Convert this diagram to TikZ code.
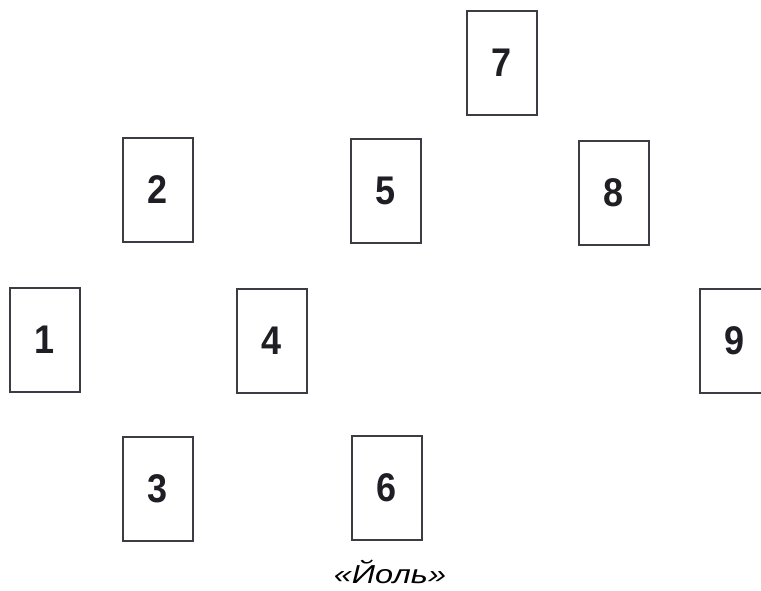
\documentclass[tikz,border=0pt]{standalone}
\usepackage{fontspec}
\setmainfont{Liberation Sans}
\newfontfamily\cardfont[FakeStretch=0.9]{Liberation Sans}
\newfontfamily\yulefont[FakeStretch=1.25]{Liberation Sans}
\definecolor{cardline}{HTML}{3C3C44}
\definecolor{cardtext}{HTML}{1E1E24}
\usetikzlibrary{positioning}

\begin{document}
\begin{tikzpicture}[
  x=1pt, y=-1pt,
  card/.style={rectangle, draw=cardline, line width=1.7pt, inner sep=0pt,
               minimum width=70pt, minimum height=104pt,
               text=cardtext, font=\cardfont\bfseries\fontsize{40}{40}\selectfont},
  title/.style={text=black, inner sep=0pt,
                font=\yulefont\itshape\fontsize{26}{30}\selectfont}
]
  \useasboundingbox (0,0) rectangle (761,590);

  % spread of nine cards
  \node[card] (c1) at (45,340)  {1};
  \node[card] (c2) at (158,190) {2};
  \node[card] (c3) at (158,489) {3};
  \node[card] (c4) at (272,341) {4};
  \node[card] (c5) at (386,191) {5};
  \node[card] (c6) at (387,488) {6};
  \node[card] (c7) at (502,63)  {7};
  \node[card] (c8) at (614,193) {8};
  \node[card] (c9) at (735,341) {9};

  \node[title, anchor=base] (name) at (390,583) {«Йоль»};
\end{tikzpicture}
\end{document}
